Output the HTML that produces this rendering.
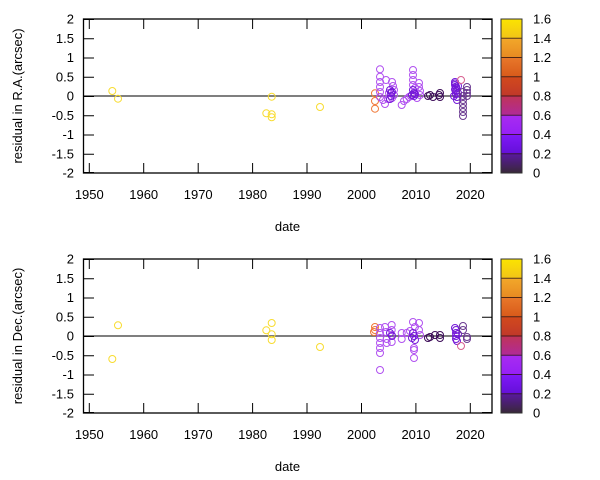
<!DOCTYPE html>
<html><head><meta charset="utf-8"><style>
html,body{margin:0;padding:0;background:#fff;}
svg{display:block;}
text{font-family:"Liberation Sans",Arial,sans-serif;font-size:13px;fill:#000;}
</style></head><body>
<svg width="600" height="480" viewBox="0 0 600 480" xmlns="http://www.w3.org/2000/svg">
<defs>
<linearGradient id="g7" x1="0" y1="0" x2="0" y2="1"><stop offset="0" stop-color="#fbe400"/><stop offset="1" stop-color="#f2c418"/></linearGradient>
<linearGradient id="g6" x1="0" y1="0" x2="0" y2="1"><stop offset="0" stop-color="#f2a82a"/><stop offset="1" stop-color="#e88a22"/></linearGradient>
<linearGradient id="g5" x1="0" y1="0" x2="0" y2="1"><stop offset="0" stop-color="#e8782a"/><stop offset="1" stop-color="#d85a1a"/></linearGradient>
<linearGradient id="g4" x1="0" y1="0" x2="0" y2="1"><stop offset="0" stop-color="#d24a1c"/><stop offset="1" stop-color="#c0382a"/></linearGradient>
<linearGradient id="g3" x1="0" y1="0" x2="0" y2="1"><stop offset="0" stop-color="#c03458"/><stop offset="1" stop-color="#b02a98"/></linearGradient>
<linearGradient id="g2" x1="0" y1="0" x2="0" y2="1"><stop offset="0" stop-color="#a82cf0"/><stop offset="1" stop-color="#9620f6"/></linearGradient>
<linearGradient id="g1" x1="0" y1="0" x2="0" y2="1"><stop offset="0" stop-color="#8018f8"/><stop offset="1" stop-color="#6410d8"/></linearGradient>
<linearGradient id="g0" x1="0" y1="0" x2="0" y2="1"><stop offset="0" stop-color="#5a18a0"/><stop offset="1" stop-color="#382838"/></linearGradient>
<g id="cbar">
<rect x="501" y="0" width="21" height="19.25" fill="url(#g7)"/>
<rect x="501" y="19.25" width="21" height="19.25" fill="url(#g6)"/>
<rect x="501" y="38.5" width="21" height="19.25" fill="url(#g5)"/>
<rect x="501" y="57.75" width="21" height="19.25" fill="url(#g4)"/>
<rect x="501" y="77" width="21" height="19.25" fill="url(#g3)"/>
<rect x="501" y="96.25" width="21" height="19.25" fill="url(#g2)"/>
<rect x="501" y="115.5" width="21" height="19.25" fill="url(#g1)"/>
<rect x="501" y="134.75" width="21" height="19.25" fill="url(#g0)"/>
<g stroke="#2a1010" stroke-width="1" opacity="0.8">
<line x1="501" y1="19.25" x2="522" y2="19.25"/>
<line x1="501" y1="38.5" x2="522" y2="38.5"/>
<line x1="501" y1="57.75" x2="522" y2="57.75"/>
<line x1="501" y1="77" x2="522" y2="77"/>
<line x1="501" y1="96.25" x2="522" y2="96.25"/>
<line x1="501" y1="115.5" x2="522" y2="115.5"/>
<line x1="501" y1="134.75" x2="522" y2="134.75"/>
</g>
<rect x="501" y="0" width="21" height="154" fill="none" stroke="#333" stroke-width="1"/>
<g>
<text x="533" y="158.5">0</text>
<text x="533" y="139.25">0.2</text>
<text x="533" y="120">0.4</text>
<text x="533" y="100.75">0.6</text>
<text x="533" y="81.5">0.8</text>
<text x="533" y="62.25">1</text>
<text x="533" y="43">1.2</text>
<text x="533" y="23.75">1.4</text>
<text x="533" y="4.5">1.6</text>
</g>
</g>
<g id="axes">
<line x1="84" y1="77" x2="492" y2="77" stroke="#555" stroke-width="1.5"/>
<g stroke="#000" stroke-width="1">
<path d="M89.3 0v10M143.7 0v10M198.2 0v10M252.6 0v10M307 0v10M361.5 0v10M415.9 0v10M470.3 0v10"/>
<path d="M89.3 154v-10M143.7 154v-10M198.2 154v-10M252.6 154v-10M307 154v-10M361.5 154v-10M415.9 154v-10M470.3 154v-10"/>
<path d="M84 0.5h10M84 19.75h10M84 39h10M84 58.25h10M84 77.5h10M84 96.75h10M84 116h10M84 135.25h10M84 153.5h10"/>
<path d="M492 0.5h-10M492 19.75h-10M492 39h-10M492 58.25h-10M492 77.5h-10M492 96.75h-10M492 116h-10M492 135.25h-10M492 153.5h-10"/>
</g>
<rect x="83.5" y="0" width="408.5" height="154" fill="none" stroke="#000" stroke-width="1.3"/>
<g text-anchor="end">
<text x="74" y="4.5">2</text>
<text x="74" y="23.75">1.5</text>
<text x="74" y="43">1</text>
<text x="74" y="62.25">0.5</text>
<text x="74" y="81.5">0</text>
<text x="74" y="100.75">-0.5</text>
<text x="74" y="120">-1</text>
<text x="74" y="139.25">-1.5</text>
<text x="74" y="158.5">-2</text>
</g>
<g text-anchor="middle">
<text x="89.3" y="180">1950</text>
<text x="143.7" y="180">1960</text>
<text x="198.2" y="180">1970</text>
<text x="252.6" y="180">1980</text>
<text x="307" y="180">1990</text>
<text x="361.5" y="180">2000</text>
<text x="415.9" y="180">2010</text>
<text x="470.3" y="180">2020</text>
<text x="287.5" y="212">date</text>
</g>
</g>
</defs>

<!-- TOP PLOT -->
<g transform="translate(0,19)">
<use href="#axes"/>
<use href="#cbar"/>
</g>
<text transform="translate(22,96) rotate(-90)" text-anchor="middle">residual in R.A.(arcsec)</text>

<g fill="none" stroke-width="1">
<g stroke="#f8dc30">
<circle cx="112.3" cy="91" r="3.5"/><circle cx="118" cy="98.7" r="3.5"/>
<circle cx="266.3" cy="113.3" r="3.5"/><circle cx="271.7" cy="96.7" r="3.5"/>
<circle cx="271.7" cy="114.3" r="3.5"/><circle cx="271.7" cy="117.3" r="3.5"/>
<circle cx="320" cy="107" r="3.5"/>
</g>
<g stroke="#f07838">
<circle cx="375" cy="93.3" r="3.5"/><circle cx="375" cy="101" r="3.5"/><circle cx="375" cy="108.7" r="3.5"/>
</g>
<g stroke="#b050f0">
<circle cx="380" cy="69.3" r="3.5"/><circle cx="380" cy="76.7" r="3.5"/><circle cx="380" cy="82" r="3.5"/>
<circle cx="380" cy="87" r="3.5"/><circle cx="380" cy="92" r="3.5"/><circle cx="380" cy="97" r="3.5"/>
<circle cx="383" cy="100" r="3.5"/><circle cx="385" cy="104" r="3.5"/><circle cx="386" cy="80" r="3.5"/>
<circle cx="388" cy="99" r="3.5"/><circle cx="389" cy="93" r="3.5"/><circle cx="392" cy="82" r="3.5"/>
<circle cx="393" cy="86" r="3.5"/><circle cx="394" cy="90" r="3.5"/><circle cx="394" cy="95" r="3.5"/>
<circle cx="392" cy="98" r="3.5"/>
<circle cx="401.7" cy="105" r="3.5"/><circle cx="404" cy="101" r="3.5"/><circle cx="406.7" cy="99" r="3.5"/>
<circle cx="409" cy="97" r="3.5"/><circle cx="413" cy="70" r="3.5"/><circle cx="413" cy="75" r="3.5"/>
<circle cx="413" cy="80" r="3.5"/><circle cx="413" cy="85" r="3.5"/><circle cx="415" cy="88" r="3.5"/>
<circle cx="419" cy="83" r="3.5"/><circle cx="419" cy="87" r="3.5"/><circle cx="420" cy="91" r="3.5"/>
<circle cx="420" cy="95" r="3.5"/><circle cx="417" cy="98" r="3.5"/><circle cx="411" cy="96" r="3.5"/>
</g>
<g stroke="#7418d8">
<circle cx="390" cy="90" r="3.5"/><circle cx="391" cy="93" r="3.5"/><circle cx="391" cy="96" r="3.5"/>
<circle cx="390" cy="99" r="3.5"/><circle cx="392" cy="92" r="3.5"/>
<circle cx="413" cy="90" r="3.5"/><circle cx="414" cy="93" r="3.5"/><circle cx="414" cy="96" r="3.5"/>
<circle cx="415" cy="94" r="3.5"/><circle cx="412" cy="95" r="3.5"/>
<circle cx="455" cy="82" r="3.5"/><circle cx="455" cy="85" r="3.5"/><circle cx="456" cy="88" r="3.5"/>
<circle cx="456" cy="91" r="3.5"/><circle cx="456" cy="94" r="3.5"/><circle cx="457" cy="97" r="3.5"/>
<circle cx="455" cy="83.5" r="3.5"/><circle cx="456" cy="86.5" r="3.5"/><circle cx="455" cy="89.5" r="3.5"/>
<circle cx="457" cy="100" r="3.5"/><circle cx="458" cy="86" r="3.5"/><circle cx="454" cy="96" r="3.5"/>
<circle cx="458" cy="93" r="3.5"/>
</g>
<circle cx="461" cy="80" r="3.5" stroke="#d86090"/>
<g stroke="#3c0c58">
<circle cx="430" cy="95" r="3.5"/><circle cx="433" cy="97" r="3.5"/><circle cx="428" cy="96" r="3.5"/>
<circle cx="440" cy="93" r="3.5"/><circle cx="440" cy="97" r="3.5"/><circle cx="439" cy="95" r="3.5"/>
</g>
<g stroke="#6a3a90">
<circle cx="463" cy="92" r="3.5"/><circle cx="463" cy="96" r="3.5"/>
<circle cx="463" cy="100" r="3.5"/><circle cx="463" cy="104" r="3.5"/><circle cx="463" cy="108" r="3.5"/>
<circle cx="463" cy="112" r="3.5"/><circle cx="463" cy="116" r="3.5"/>
<circle cx="467" cy="87" r="3.5"/><circle cx="467" cy="90" r="3.5"/><circle cx="467" cy="93" r="3.5"/>
<circle cx="467" cy="96" r="3.5"/>
</g>
</g>

<!-- BOTTOM PLOT -->
<g transform="translate(0,259)">
<use href="#axes"/>
<use href="#cbar"/>
</g>
<text transform="translate(22,336) rotate(-90)" text-anchor="middle">residual in Dec.(arcsec)</text>

<g fill="none" stroke-width="1">
<g stroke="#f8dc30">
<circle cx="112.3" cy="359" r="3.5"/><circle cx="118" cy="325.3" r="3.5"/>
<circle cx="266.3" cy="330.3" r="3.5"/><circle cx="271.7" cy="323" r="3.5"/>
<circle cx="271.7" cy="334.3" r="3.5"/><circle cx="271.7" cy="340" r="3.5"/>
<circle cx="320" cy="347" r="3.5"/>
</g>
<g stroke="#f07838">
<circle cx="375" cy="327" r="3.5"/><circle cx="375" cy="330" r="3.5"/><circle cx="374" cy="332" r="3.5"/>
</g>
<g stroke="#b050f0">
<circle cx="380" cy="328" r="3.5"/><circle cx="380" cy="333" r="3.5"/><circle cx="380" cy="338" r="3.5"/>
<circle cx="380" cy="343" r="3.5"/><circle cx="380" cy="348" r="3.5"/><circle cx="380" cy="353" r="3.5"/>
<circle cx="380" cy="370" r="3.5"/><circle cx="385" cy="327" r="3.5"/><circle cx="386" cy="332" r="3.5"/>
<circle cx="386.7" cy="339" r="3.5"/><circle cx="386.7" cy="343" r="3.5"/><circle cx="391.7" cy="325" r="3.5"/>
<circle cx="391.7" cy="330" r="3.5"/><circle cx="391.7" cy="335" r="3.5"/><circle cx="391.7" cy="342" r="3.5"/>
<circle cx="401.7" cy="333" r="3.5"/><circle cx="401.7" cy="339" r="3.5"/><circle cx="406.7" cy="333" r="3.5"/>
<circle cx="410" cy="331" r="3.5"/><circle cx="413" cy="322" r="3.5"/><circle cx="415" cy="327" r="3.5"/>
<circle cx="414" cy="348" r="3.5"/><circle cx="414" cy="350" r="3.5"/><circle cx="414" cy="358" r="3.5"/>
<circle cx="419" cy="323" r="3.5"/><circle cx="419" cy="330" r="3.5"/><circle cx="420" cy="335" r="3.5"/>
</g>
<g stroke="#7418d8">
<circle cx="390" cy="333" r="3.5"/><circle cx="392" cy="336" r="3.5"/>
<circle cx="413" cy="333" r="3.5"/><circle cx="414" cy="336" r="3.5"/><circle cx="412" cy="338" r="3.5"/>
<circle cx="415" cy="340" r="3.5"/>
<circle cx="456" cy="330" r="3.5"/><circle cx="456" cy="333" r="3.5"/><circle cx="456" cy="336" r="3.5"/>
<circle cx="456" cy="339" r="3.5"/><circle cx="457" cy="341" r="3.5"/><circle cx="455" cy="328" r="3.5"/>
<circle cx="458" cy="334" r="3.5"/>
</g>
<circle cx="461" cy="346" r="3.5" stroke="#d86090"/>
<g stroke="#3c0c58">
<circle cx="430" cy="337" r="3.5"/><circle cx="435" cy="335" r="3.5"/><circle cx="440" cy="335" r="3.5"/>
<circle cx="440" cy="338" r="3.5"/><circle cx="428" cy="338" r="3.5"/>
</g>
<g stroke="#6a3a90">
<circle cx="463" cy="326" r="3.5"/><circle cx="463" cy="330" r="3.5"/>
<circle cx="467" cy="337" r="3.5"/><circle cx="467" cy="339" r="3.5"/>
</g>
</g>
</svg>
</body></html>
